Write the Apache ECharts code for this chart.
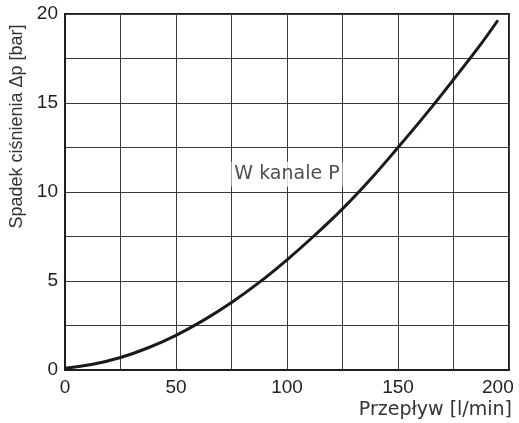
<!DOCTYPE html>
<html>
<head>
<meta charset="utf-8">
<script src="https://cdn.jsdelivr.net/npm/echarts@6/dist/echarts.min.js"></script>
<style>
  html, body { margin: 0; padding: 0; background: #fff; }
  #chart { width: 519px; height: 423px; }
</style>
</head>
<body>
<div id="chart"></div>
<script>
// Pressure drop versus flow rate, channel P
const flowValues = [0, 12.5, 25, 37.5, 50, 62.5, 75, 87.5, 100, 112.5, 125, 137.5, 150, 162.5, 175, 187.5, 195];
const pressureDrop = [0.1, 0.32, 0.70, 1.25, 1.95, 2.80, 3.79, 4.92, 6.19, 7.57, 9.05, 10.70, 12.50, 14.36, 16.32, 18.34, 19.65];
const xTicks = [0, 50, 100, 150, 200];
const yTicks = [0, 5, 10, 15, 20];
const curveLabel = 'W kanale P';
const curveLabelPos = [100, 11];
const xName = 'Przepływ [l/min]';
const yName = 'Spadek ciśnienia Δp [bar]';

const chart = echarts.init(document.getElementById('chart'), null, { renderer: 'canvas' });

const tickFont = { fontFamily: 'Liberation Sans, Arial, sans-serif', fontSize: 19, color: '#222' };
const xMax = 200;

chart.setOption({
  animation: false,
  grid: {
    left: 65, right: 10, top: 14, bottom: 53,
    containLabel: false,
    outerBoundsMode: 'none',
    show: true, borderColor: '#1e1e1e', borderWidth: 2
  },
  xAxis: {
    type: 'value', min: 0, max: xMax, interval: 25,
    axisLine: { show: true, lineStyle: { color: '#1e1e1e', width: 2 } },
    axisTick: { show: false },
    splitLine: { show: true, lineStyle: { color: '#3a3a3a', width: 1 } },
    axisLabel: Object.assign({
      margin: 8,
      // the last label sits left of its tick so it stays inside the canvas
      formatter: v => xTicks.indexOf(v) < 0 ? '' : (v === xMax ? '{last|' + v + '}' : String(v)),
      rich: {
        last: Object.assign({ width: 54, align: 'left' }, tickFont)
      }
    }, tickFont),
    name: xName,
    nameLocation: 'end',
    nameGap: 3,
    nameTextStyle: {
      fontFamily: 'DejaVu Sans, sans-serif', fontSize: 19, color: '#333',
      align: 'right', verticalAlign: 'top', padding: [31, 0, 0, 0]
    }
  },
  yAxis: {
    type: 'value', min: 0, max: 20, interval: 2.5,
    axisLine: { show: true, lineStyle: { color: '#1e1e1e', width: 2 } },
    axisTick: { show: false },
    splitLine: { show: true, lineStyle: { color: '#3a3a3a', width: 1 } },
    axisLabel: Object.assign({
      margin: 7,
      formatter: v => yTicks.indexOf(v) >= 0 ? String(v) : ''
    }, tickFont),
    name: yName,
    nameLocation: 'middle',
    nameGap: 33,
    nameTextStyle: {
      fontFamily: 'Liberation Sans, Arial, sans-serif', fontSize: 18, color: '#333',
      padding: [0, 0, 0, 131]
    }
  },
  series: [
    {
      type: 'line',
      data: flowValues.map((x, i) => [x, pressureDrop[i]]),
      smooth: 0.4,
      showSymbol: false,
      lineStyle: { color: '#1a1a1a', width: 3 },
      z: 3
    },
    {
      type: 'scatter',
      data: [curveLabelPos],
      symbolSize: 0,
      z: 4,
      label: {
        show: true,
        position: 'inside',
        formatter: curveLabel,
        fontFamily: 'DejaVu Sans, sans-serif',
        fontSize: 19,
        color: '#222',
        backgroundColor: '#fff',
        padding: [3, 3]
      }
    }
  ]
});
</script>
</body>
</html>
